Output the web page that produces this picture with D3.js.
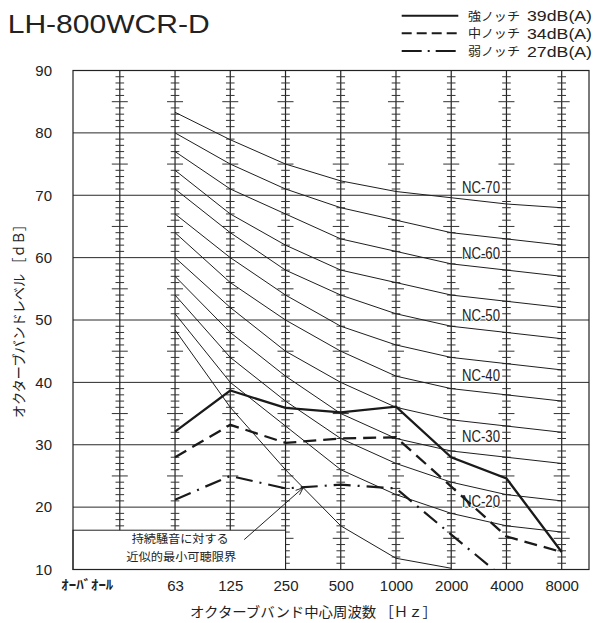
<!DOCTYPE html>
<html>
<head>
<meta charset="utf-8">
<script src="https://cdn.jsdelivr.net/npm/d3@7"></script>
<style>
  body { margin: 0; background: #fff; }
  svg { display: block; }
</style>
</head>
<body>
<svg id="chart" width="606" height="623"></svg>
<script>
// Octave bands (first column is the overall value column)
const bands = ["OA", "63", "125", "250", "500", "1000", "2000", "4000", "8000"];
const bandLabels = ["ｵｰﾊﾞｵｰﾙ", "63", "125", "250", "500", "1000", "2000", "4000", "8000"];
const octaveBands = ["63", "125", "250", "500", "1000", "2000", "4000", "8000"];
const yTicks = [10, 20, 30, 40, 50, 60, 70, 80, 90];

// NC reference curves, 63 Hz .. 8 kHz
const nc70 = [83.3, 78.9, 75, 72.3, 70.6, 69.6, 68.6, 68];
const nc65 = [80, 75, 71, 68, 66, 64, 63, 62];
const nc60 = [77, 71, 67, 63, 61, 59, 58, 57];
const nc55 = [74, 67, 62, 58, 56, 54, 53, 52];
const nc50 = [71, 64, 58, 54, 51, 49, 48, 47];
const nc45 = [67, 60, 54, 49, 46, 44, 43, 42];
const nc40 = [64, 56, 50, 45, 41, 39, 38, 37];
const nc35 = [60, 52, 45, 40, 36, 34, 33, 32];
const nc30 = [57, 48, 41, 35, 31, 29, 28, 27];
const nc25 = [54, 44, 37, 31, 27, 24, 22, 21];
const nc20 = [51, 40, 33, 26, 22, 19, 17, 16];
const ncCurves = [nc70, nc65, nc60, nc55, nc50, nc45, nc40, nc35, nc30, nc25, nc20];

// NC curve labels: name and the level they sit at
const ncLabelNames = ["NC-70", "NC-60", "NC-50", "NC-40", "NC-30", "NC-20"];
const ncLabelLevels = [70.3, 59.7, 49.8, 40.3, 30.5, 20.1];

// Approximate threshold of hearing for continuous noise
const thresholdBands = ["63", "125", "250", "500", "1000", "2000"];
const threshold = [48.4, 36.0, 26.0, 17.0, 11.8, 10.2];

// Measured octave band levels for each fan notch
const strongNotch = [32.1, 38.7, 35.9, 35.2, 36.1, 28.0, 24.6, 12.8];
const midNotch = [28.0, 33.2, 30.3, 31.0, 31.2, 23.3, 15.3, 12.8];
const weakBands = ["63", "125", "250", "500", "1000", "2000", "4000"];
const weakNotch = [21.2, 25.0, 23.0, 23.6, 23.0, 15.6, 8.3];

const legendNames = ["強ノッチ", "中ノッチ", "弱ノッチ"];
const legendValues = ["39dB(A)", "34dB(A)", "27dB(A)"];

const svg = d3.select("#chart");
const frame = { left: 73, right: 589, top: 70.5, bottom: 569.5 };
const narrow = "'Liberation Sans Narrow', 'Arial Narrow', 'Liberation Sans', sans-serif";
const jp = "'Noto Sans CJK JP', 'Noto Sans', sans-serif";

const x = d3.scalePoint().domain(bands).range([119.8, 561.7]);
const y = d3.scaleLinear().domain([10, 90]).range([frame.bottom, frame.top]);
const step = x.step();

svg.append("defs").append("clipPath").attr("id", "plot")
  .append("rect")
  .attr("x", frame.left).attr("y", frame.top)
  .attr("width", frame.right - frame.left).attr("height", frame.bottom - frame.top);

// Horizontal grid lines every 10 dB
svg.append("g").selectAll("line").data(yTicks).join("line")
  .attr("x1", frame.left).attr("x2", frame.right)
  .attr("y1", d => y(d)).attr("y2", d => y(d))
  .attr("stroke", "#2a2a2a").attr("stroke-width", 1);

// Vertical band lines with 1 dB graduation ticks
const vg = svg.append("g");
vg.selectAll("line.band").data(bands).join("line").attr("class", "band")
  .attr("x1", d => x(d)).attr("x2", d => x(d))
  .attr("y1", frame.top).attr("y2", frame.bottom)
  .attr("stroke", "#222").attr("stroke-width", 1.2);
const gradValues = d3.range(11, 90).filter(v => v % 10 !== 0);
bands.forEach(b => {
  vg.append("g").selectAll("line").data(gradValues).join("line")
    .attr("x1", v => x(b) - (v % 5 === 0 ? 8 : 4.3))
    .attr("x2", v => x(b) + (v % 5 === 0 ? 8 : 4.3))
    .attr("y1", v => y(v)).attr("y2", v => y(v))
    .attr("stroke", "#333").attr("stroke-width", 1);
});

// NC curves
const line = d3.line().x(d => x(d[0])).y(d => y(d[1]));
svg.append("g").selectAll("path").data(ncCurves).join("path")
  .attr("d", c => line(octaveBands.map((b, i) => [b, c[i]])))
  .attr("fill", "none").attr("stroke", "#1e1e1e").attr("stroke-width", 1);

// Threshold curve
svg.append("path")
  .attr("d", line(thresholdBands.map((b, i) => [b, threshold[i]])))
  .attr("fill", "none").attr("stroke", "#1e1e1e").attr("stroke-width", 1)
  .attr("clip-path", "url(#plot)");

// NC labels
svg.append("g").selectAll("text").data(ncLabelNames).join("text")
  .attr("x", 500).attr("y", (d, i) => y(ncLabelLevels[i]))
  .attr("text-anchor", "end")
  .attr("font-family", narrow).attr("font-size", 16)
  .attr("textLength", 38).attr("lengthAdjust", "spacingAndGlyphs")
  .attr("fill", "#222")
  .attr("stroke", "#fff").attr("stroke-width", 2).attr("paint-order", "stroke")
  .text(d => d);

// Label box for the threshold curve
const boxTop = y(16.3);
svg.append("rect")
  .attr("x", frame.left).attr("y", boxTop)
  .attr("width", x("250") - frame.left).attr("height", frame.bottom - boxTop)
  .attr("fill", "#fff").attr("stroke", "#222").attr("stroke-width", 1);
const boxCx = (frame.left + x("250")) / 2 + 2;
svg.append("text").attr("x", boxCx - 1).attr("y", y(14.2))
  .attr("text-anchor", "middle").attr("font-family", jp).attr("font-size", 11.8)
  .attr("textLength", 97).attr("lengthAdjust", "spacingAndGlyphs")
  .attr("fill", "#222").text("持続騒音に対する");
svg.append("text").attr("x", boxCx).attr("y", y(11.4))
  .attr("text-anchor", "middle").attr("font-family", jp).attr("font-size", 11.8)
  .attr("textLength", 110).attr("lengthAdjust", "spacingAndGlyphs")
  .attr("fill", "#222").text("近似的最小可聴限界");

// Leader arrow pointing at the threshold curve
const tFrac = 0.32;
const ax = x("250") + tFrac * step;
const ay = y(threshold[2] + tFrac * (threshold[3] - threshold[2]));
const sx = boxCx + 63, sy = y(14.8);
svg.append("line").attr("x1", sx).attr("y1", sy).attr("x2", ax).attr("y2", ay)
  .attr("stroke", "#222").attr("stroke-width", 1);
const ang = Math.atan2(ay - sy, ax - sx);
const hl = 8, ha = 0.38;
svg.append("path")
  .attr("d", `M${ax - hl * Math.cos(ang - ha)},${ay - hl * Math.sin(ang - ha)}L${ax},${ay}L${ax - hl * Math.cos(ang + ha)},${ay - hl * Math.sin(ang + ha)}`)
  .attr("fill", "none").attr("stroke", "#222").attr("stroke-width", 1);

// Measured series
const sg = svg.append("g").attr("clip-path", "url(#plot)");
sg.append("path")
  .attr("d", line(octaveBands.map((b, i) => [b, strongNotch[i]])))
  .attr("fill", "none").attr("stroke", "#1a1a1a").attr("stroke-width", 2.3);
sg.append("path")
  .attr("d", line(octaveBands.map((b, i) => [b, midNotch[i]])))
  .attr("fill", "none").attr("stroke", "#1a1a1a").attr("stroke-width", 2.3)
  .attr("stroke-dasharray", "13,7");
sg.append("path")
  .attr("d", line(weakBands.map((b, i) => [b, weakNotch[i]])))
  .attr("fill", "none").attr("stroke", "#1a1a1a").attr("stroke-width", 2.2)
  .attr("stroke-dasharray", "17,7,2,7");

// Plot frame
svg.append("rect")
  .attr("x", frame.left).attr("y", frame.top)
  .attr("width", frame.right - frame.left).attr("height", frame.bottom - frame.top)
  .attr("fill", "none").attr("stroke", "#222").attr("stroke-width", 1.2);

// Axes
const xAxis = svg.append("g").attr("transform", `translate(0,${frame.bottom})`)
  .call(d3.axisBottom(x).tickSize(0).tickPadding(10.5).tickFormat((d, i) => bandLabels[i]));
xAxis.select(".domain").remove();
xAxis.selectAll("text").attr("font-family", narrow).attr("font-size", 15).attr("fill", "#222");
xAxis.selectAll(".tick").filter(d => d === "OA").select("text")
  .attr("font-family", jp).attr("font-size", 13).attr("font-weight", 700)
  .attr("dx", -33).attr("textLength", 52).attr("lengthAdjust", "spacingAndGlyphs");

const yAxis = svg.append("g").attr("transform", `translate(${frame.left},0)`)
  .call(d3.axisLeft(y).tickValues(yTicks).tickSize(0).tickPadding(21));
yAxis.select(".domain").remove();
yAxis.selectAll("text").attr("font-family", narrow).attr("font-size", 15).attr("fill", "#222");

// Axis titles
svg.append("text").attr("x", 313.5).attr("y", 617)
  .attr("text-anchor", "middle").attr("font-family", jp).attr("font-size", 14)
  .attr("textLength", 247).attr("lengthAdjust", "spacingAndGlyphs")
  .attr("fill", "#222").text("オクターブバンド中心周波数 ［Ｈｚ］");
svg.append("text").attr("transform", "translate(24,318) rotate(-90)")
  .attr("text-anchor", "middle").attr("font-family", jp).attr("font-size", 14)
  .attr("textLength", 200).attr("lengthAdjust", "spacingAndGlyphs")
  .attr("fill", "#222").text("オクターブバンドレベル ［ｄＢ］");

// Title
svg.append("text").attr("x", 7.7).attr("y", 32.7)
  .attr("font-family", "'Liberation Sans', Arial, sans-serif").attr("font-size", 25)
  .attr("textLength", 202).attr("lengthAdjust", "spacingAndGlyphs")
  .attr("fill", "#222").text("LH-800WCR-D");

// Legend
const legendDash = ["none", "10,5", "20,6,2,6"];
const legendY = [15.7, 33.3, 51];
const lg = svg.append("g");
legendNames.forEach((name, i) => {
  lg.append("line").attr("x1", 401.7).attr("x2", 458.3)
    .attr("y1", legendY[i]).attr("y2", legendY[i])
    .attr("stroke", "#1a1a1a").attr("stroke-width", 2)
    .attr("stroke-dasharray", legendDash[i]);
  lg.append("text").attr("x", 468).attr("y", legendY[i] + 5)
    .attr("font-family", jp).attr("font-size", 12)
    .attr("textLength", 52).attr("lengthAdjust", "spacingAndGlyphs")
    .attr("fill", "#222").text(name);
  lg.append("text").attr("x", 527).attr("y", legendY[i] + 5.5)
    .attr("font-family", narrow).attr("font-size", 15)
    .attr("textLength", 65).attr("lengthAdjust", "spacingAndGlyphs")
    .attr("fill", "#222").text(legendValues[i]);
});
</script>
</body>
</html>
